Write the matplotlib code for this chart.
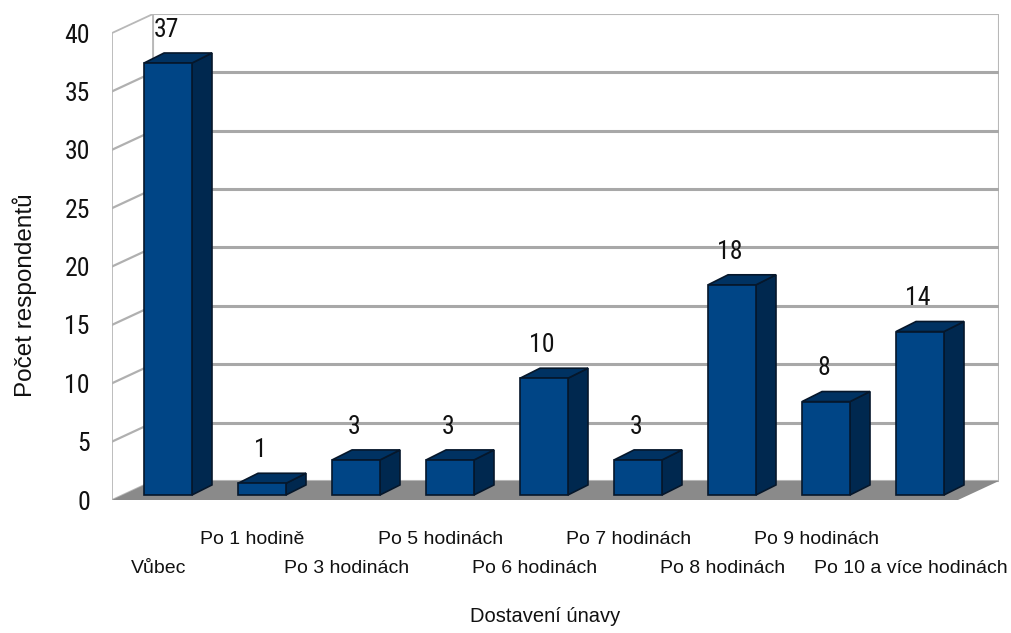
import matplotlib
matplotlib.use("Agg")
import matplotlib.pyplot as plt
from matplotlib.patches import Polygon
from matplotlib import font_manager

# Survey data: when fatigue sets in
categories = ["Vůbec", "Po 1 hodině", "Po 3 hodinách", "Po 5 hodinách",
              "Po 6 hodinách", "Po 7 hodinách", "Po 8 hodinách",
              "Po 9 hodinách", "Po 10 a více hodinách"]
counts = [37, 1, 3, 3, 10, 3, 18, 8, 14]
y_ticks = [0, 5, 10, 15, 20, 25, 30, 35, 40]
x_title = "Dostavení únavy"
y_title = "Počet respondentů"

available = {f.name for f in font_manager.fontManager.ttflist}
text_font = "Liberation Sans" if "Liberation Sans" in available else "DejaVu Sans"
narrow_candidates = ["Liberation Sans Narrow", "Arial Narrow", "Roboto Condensed",
                     "DejaVu Sans Condensed", "Open Sans Condensed",
                     "Noto Sans Condensed", "Open Sans SemiCondensed"]
num_font = next((f for f in narrow_candidates if f in available), None)
num_size = 18.5
if num_font is None:
    num_font = text_font
    num_size = 17.5
plt.rcParams["font.family"] = [text_font, "DejaVu Sans"]

W, H = 1011, 633
fig = plt.figure(figsize=(W / 100, H / 100), dpi=100)
fig.patch.set_facecolor("white")
ax = fig.add_axes([112 / W, 1 - 500 / H, (999 - 112) / W, (500 - 14) / H])
x_lo, x_hi = -0.5957, 8.8404
y_top = 41.63
ax.set_xlim(x_lo, x_hi)
ax.set_ylim(0, y_top)
for s in ax.spines.values():
    s.set_visible(False)
ax.set_facecolor("none")

# 3-D box geometry (wall depth and bar depth in data units)
wall_dx, wall_dy = 0.436, 1.63
bar_w = 0.51
bar_dx, bar_dy = 0.213, 0.86
bar_y0 = 0.43
ymax = 40

back_x0 = x_lo + wall_dx
grid_col = "#a8a8a8"
border_col = "#b8b8b8"
txt_col = "#111111"

# back wall
ax.add_patch(Polygon([(back_x0, wall_dy), (x_hi, wall_dy), (x_hi, ymax + wall_dy),
                      (back_x0, ymax + wall_dy)], closed=True, facecolor="white",
                     edgecolor=border_col, lw=1.5, zorder=1))
for v in y_ticks[1:-1]:
    ax.plot([back_x0, x_hi], [v + wall_dy, v + wall_dy], color=grid_col, lw=2.2,
            solid_capstyle="butt", zorder=2)

# left wall
ax.add_patch(Polygon([(x_lo, 0), (back_x0, wall_dy), (back_x0, ymax + wall_dy),
                      (x_lo, ymax)], closed=True, facecolor="white",
                     edgecolor=border_col, lw=1.3, zorder=1))
for v in y_ticks[1:-1]:
    ax.plot([x_lo, back_x0], [v, v + wall_dy], color="#b0b0b0", lw=1.6, zorder=2)

# floor
ax.add_patch(Polygon([(x_lo, 0), (x_hi - wall_dx, 0), (x_hi, wall_dy),
                      (back_x0, wall_dy)], closed=True, facecolor="#8a8a8a",
                     edgecolor="none", zorder=3))

# bars: front faces from the values, plus side and top faces
x = list(range(len(categories)))
front_col, side_col, top_col, edge_col = "#004586", "#00284f", "#003262", "#06172b"
ax.bar(x, counts, width=bar_w, bottom=bar_y0, color=front_col,
       edgecolor=edge_col, linewidth=1.2, zorder=6)
for xi, v in zip(x, counts):
    xr = xi + bar_w / 2
    xl = xi - bar_w / 2
    top = bar_y0 + v
    ax.add_patch(Polygon([(xr, bar_y0), (xr + bar_dx, bar_y0 + bar_dy),
                          (xr + bar_dx, top + bar_dy), (xr, top)], closed=True,
                         facecolor=side_col, edgecolor=edge_col, lw=1.2, zorder=5))
    ax.add_patch(Polygon([(xl, top), (xl + bar_dx, top + bar_dy),
                          (xr + bar_dx, top + bar_dy), (xr, top)], closed=True,
                         facecolor=top_col, edgecolor=edge_col, lw=1.2, zorder=5))
    ax.text(xi - 0.02, top + 2.85, str(v), ha="center", va="center", fontsize=num_size,
            family=[num_font, "DejaVu Sans"], color=txt_col, zorder=8)

# y axis ticks on the front edge of the left wall
ax.set_yticks(y_ticks)
ax.set_yticklabels([str(t) for t in y_ticks], family=[num_font, "DejaVu Sans"],
                   fontsize=num_size, color=txt_col)
ax.tick_params(axis="y", length=0, pad=16)

# staggered category labels
lab_shift = -0.1
ax.set_xticks([xi + lab_shift for xi in x[0::2]], labels=categories[0::2])
ax.set_xticks([xi + lab_shift for xi in x[1::2]], labels=categories[1::2], minor=True)
ax.tick_params(axis="x", which="both", length=0, labelsize=14, labelcolor=txt_col)
ax.tick_params(axis="x", which="major", pad=43.5)
ax.tick_params(axis="x", which="minor", pad=22)

fig.text(545 / W, 1 - 617 / H, x_title, ha="center", va="center", fontsize=14.5,
         color=txt_col)
fig.text(25 / W, 1 - 295 / H, y_title, ha="center", va="center", rotation=90,
         fontsize=17.5, color=txt_col)

fig.savefig("out.png", dpi=100, facecolor="white")
